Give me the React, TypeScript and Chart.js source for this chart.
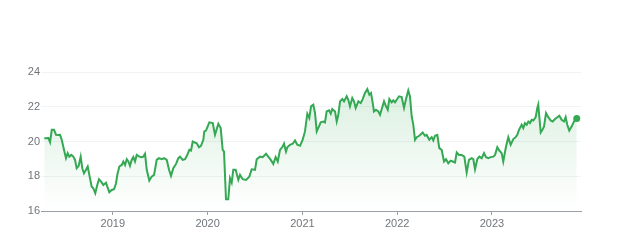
import React, { useEffect, useRef } from "react";
import { Chart, registerables } from "chart.js";

Chart.register(...registerables);

// time in decimal years
const years = [
  2018.277, 2018.320, 2018.338, 2018.356, 2018.380, 2018.401, 2018.425, 2018.443, 2018.461, 2018.485,
  2018.506, 2018.524, 2018.541, 2018.562, 2018.583, 2018.601, 2018.619, 2018.640, 2018.661, 2018.678,
  2018.696, 2018.717, 2018.735, 2018.752, 2018.777, 2018.794, 2018.815, 2018.836, 2018.854, 2018.876,
  2018.900, 2018.928, 2018.942, 2018.963, 2018.988, 2019.013, 2019.034, 2019.047, 2019.069, 2019.094,
  2019.111, 2019.129, 2019.147, 2019.164, 2019.181, 2019.199, 2019.216, 2019.234, 2019.252, 2019.280,
  2019.305, 2019.322, 2019.340, 2019.358, 2019.385, 2019.410, 2019.435, 2019.463, 2019.487, 2019.516,
  2019.540, 2019.569, 2019.593, 2019.614, 2019.638, 2019.667, 2019.691, 2019.709, 2019.737, 2019.762,
  2019.786, 2019.807, 2019.825, 2019.843, 2019.867, 2019.885, 2019.909, 2019.930, 2019.955, 2019.965,
  2019.983, 2020.018, 2020.054, 2020.078, 2020.113, 2020.138, 2020.159, 2020.173, 2020.194, 2020.218,
  2020.236, 2020.254, 2020.271, 2020.296, 2020.324, 2020.342, 2020.370, 2020.405, 2020.440, 2020.465,
  2020.500, 2020.518, 2020.553, 2020.581, 2020.616, 2020.640, 2020.666, 2020.693, 2020.718, 2020.740,
  2020.764, 2020.792, 2020.806, 2020.827, 2020.841, 2020.869, 2020.898, 2020.922, 2020.946, 2020.975,
  2021.003, 2021.027, 2021.052, 2021.073, 2021.091, 2021.115, 2021.133, 2021.151, 2021.175, 2021.193,
  2021.220, 2021.238, 2021.256, 2021.281, 2021.299, 2021.315, 2021.344, 2021.362, 2021.379, 2021.397,
  2021.421, 2021.439, 2021.467, 2021.484, 2021.502, 2021.526, 2021.544, 2021.562, 2021.590, 2021.615,
  2021.636, 2021.660, 2021.685, 2021.706, 2021.724, 2021.742, 2021.755, 2021.776, 2021.801, 2021.819,
  2021.837, 2021.861, 2021.882, 2021.900, 2021.917, 2021.942, 2021.959, 2021.977, 2021.995, 2022.019,
  2022.047, 2022.072, 2022.093, 2022.117, 2022.135, 2022.153, 2022.170, 2022.188, 2022.206, 2022.233,
  2022.269, 2022.293, 2022.311, 2022.339, 2022.364, 2022.381, 2022.399, 2022.423, 2022.444, 2022.469,
  2022.494, 2022.515, 2022.539, 2022.564, 2022.586, 2022.610, 2022.628, 2022.652, 2022.680, 2022.708,
  2022.733, 2022.757, 2022.786, 2022.803, 2022.821, 2022.845, 2022.866, 2022.891, 2022.916, 2022.937,
  2022.961, 2022.986, 2023.014, 2023.032, 2023.056, 2023.077, 2023.102, 2023.119, 2023.148, 2023.172,
  2023.197, 2023.225, 2023.250, 2023.267, 2023.285, 2023.313, 2023.330, 2023.348, 2023.366, 2023.383,
  2023.401, 2023.419, 2023.436, 2023.461, 2023.478, 2023.488, 2023.499, 2023.514, 2023.535, 2023.549,
  2023.570, 2023.594, 2023.619, 2023.640, 2023.665, 2023.689, 2023.710, 2023.735, 2023.760, 2023.777,
  2023.794, 2023.815, 2023.841, 2023.865, 2023.894,
];

const prices = [
  20.19, 20.20, 19.96, 20.67, 20.67, 20.38, 20.37, 20.38, 20.10, 19.52,
  19.04, 19.33, 19.13, 19.23, 19.13, 18.94, 18.46, 18.60, 19.13, 18.46,
  18.17, 18.37, 18.56, 18.08, 17.40, 17.31, 17.02, 17.50, 17.83, 17.69,
  17.50, 17.63, 17.40, 17.08, 17.21, 17.25, 17.60, 18.08, 18.56, 18.65,
  18.85, 18.65, 18.98, 18.85, 18.60, 18.94, 19.10, 18.85, 19.23, 19.13,
  19.10, 19.13, 19.29, 18.37, 17.75, 17.98, 18.08, 18.94, 19.04, 18.98,
  19.04, 18.94, 18.37, 18.02, 18.46, 18.71, 19.04, 19.13, 18.94, 18.98,
  19.23, 19.52, 19.48, 20.00, 19.94, 19.90, 19.67, 19.75, 20.10, 20.58,
  20.63, 21.10, 21.06, 20.38, 21.02, 20.77, 19.52, 19.42, 16.67, 16.67,
  17.89, 17.63, 18.37, 18.37, 17.79, 18.08, 17.83, 17.79, 17.98, 18.40,
  18.37, 18.98, 19.13, 19.10, 19.29, 19.13, 18.94, 18.71, 19.10, 18.85,
  19.52, 19.71, 19.87, 19.42, 19.67, 19.81, 19.87, 20.06, 19.81, 19.75,
  20.10, 20.58, 21.60, 21.35, 22.02, 22.12, 21.64, 20.58, 20.87, 21.10,
  21.15, 21.10, 21.73, 21.79, 21.60, 21.87, 21.73, 21.15, 21.54, 22.31,
  22.44, 22.31, 22.60, 22.40, 22.02, 22.50, 22.31, 21.93, 22.31, 22.21,
  22.44, 22.79, 23.02, 22.69, 22.79, 22.21, 21.73, 21.83, 21.73, 21.54,
  21.87, 22.31, 22.02, 21.83, 22.44, 22.25, 22.37, 22.25, 22.40, 22.60,
  22.56, 21.93, 22.44, 22.94, 22.60, 21.44, 20.96, 20.10, 20.25, 20.33,
  20.52, 20.33, 20.38, 20.10, 20.25, 20.06, 20.33, 20.38, 19.62, 19.52,
  18.85, 18.98, 18.75, 18.90, 18.85, 18.79, 19.37, 19.23, 19.23, 19.13,
  18.21, 18.94, 19.04, 18.98, 18.40, 18.98, 19.13, 19.04, 19.33, 19.10,
  19.04, 19.10, 19.13, 19.23, 19.67, 19.48, 19.33, 18.85, 19.71, 20.25,
  19.81, 20.14, 20.25, 20.38, 20.67, 20.96, 20.77, 21.06, 20.96, 21.15,
  21.06, 21.25, 21.21, 21.40, 21.93, 22.12, 21.44, 20.52, 20.71, 20.87,
  21.64, 21.40, 21.21, 21.15, 21.29, 21.40, 21.48, 21.25, 21.15, 21.40,
  20.96, 20.63, 20.87, 21.15, 21.33,
];

const xTickYears = [2019, 2020, 2021, 2022, 2023];
const yTicks = [16, 18, 20, 22, 24];

const X_MIN = 2018.274;
const X_MAX = 2023.939;

const LINE = "#34a853";
const LABEL = "#70757a";
const FONT = "Arial, 'Liberation Sans', sans-serif";

export default function App() {
  const ref = useRef<HTMLCanvasElement | null>(null);

  useEffect(() => {
    const canvas = ref.current;
    if (!canvas) return;
    const last = years.length - 1;
    const chart = new Chart(canvas, {
      type: "line",
      data: {
        datasets: [
          {
            data: years.map((t, i) => ({ x: t, y: prices[i] })),
            borderColor: LINE,
            borderWidth: 2,
            tension: 0,
            fill: "start",
            backgroundColor: (ctx: any) => {
              const area = ctx.chart.chartArea;
              if (!area) return "rgba(52,168,83,0.1)";
              const g = ctx.chart.ctx.createLinearGradient(0, area.top, 0, area.bottom);
              g.addColorStop(0, "rgba(52,168,83,0.2)");
              g.addColorStop(1, "rgba(52,168,83,0)");
              return g;
            },
            pointRadius: (ctx: any) => (ctx.dataIndex === last ? 3.5 : 0),
            pointBackgroundColor: LINE,
            pointBorderWidth: 0,
            pointHoverRadius: 0,
          },
        ],
      },
      options: {
        animation: false,
        responsive: false,
        events: [],
        layout: { padding: { left: 0, right: 61, top: 72, bottom: 0 } },
        plugins: { legend: { display: false }, tooltip: { enabled: false } },
        scales: {
          x: {
            type: "linear",
            min: X_MIN,
            max: X_MAX,
            afterBuildTicks: (scale: any) => {
              scale.ticks = xTickYears.map((v) => ({ value: v }));
            },
            afterFit: (scale: any) => {
              scale.height = 36;
            },
            ticks: {
              color: LABEL,
              font: { family: FONT, size: 11 },
              padding: 2,
              maxRotation: 0,
              autoSkip: false,
              callback: (v: any) => String(v),
            },
            grid: {
              drawOnChartArea: false,
              drawTicks: true,
              tickLength: 4,
              color: "#9aa0a6",
            },
            border: { display: true, color: "#9aa0a6", width: 1 },
          },
          y: {
            type: "linear",
            min: 16,
            max: 24,
            afterBuildTicks: (scale: any) => {
              scale.ticks = yTicks.map((v) => ({ value: v }));
            },
            afterFit: (scale: any) => {
              scale.width = 44;
            },
            ticks: {
              color: LABEL,
              font: { family: FONT, size: 11 },
              padding: 1,
              callback: (v: any) => String(v),
            },
            grid: {
              drawTicks: true,
              tickLength: 3,
              color: (ctx: any) => (ctx.tick && ctx.tick.value === 16 ? "#9aa0a6" : "#f1f3f4"),
            },
            border: { display: false },
          },
        },
      },
    });
    return () => chart.destroy();
  }, []);

  return (
    <div style={{ position: "absolute", left: 0, top: 0, width: 642, height: 247, background: "#fff" }}>
      <canvas ref={ref} width={642} height={247} style={{ display: "block", width: 642, height: 247 }} />
    </div>
  );
}
